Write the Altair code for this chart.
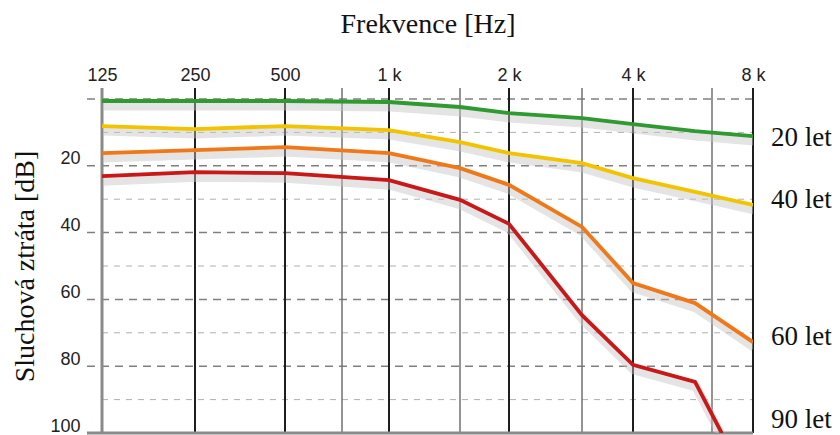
import altair as alt
import pandas as pd

# ---- data ----
freqs = [125, 250, 500, 1000, 1500, 2000, 3000, 4000, 5500, 8000]
loss_20 = [0.6, 0.6, 0.6, 0.9, 2.4, 4.2, 5.7, 7.5, 9.6, 11.1]
loss_40 = [8.1, 9.0, 8.1, 9.3, 12.9, 16.2, 19.2, 23.7, 27.8, 31.7]
loss_60 = [16.2, 15.3, 14.4, 16.2, 20.7, 25.7, 38.3, 55.1, 61.1, 72.8]
loss_90 = [23.1, 21.9, 22.2, 24.3, 30.2, 37.4, 64.7, 79.6, 84.7, 118.0]
series_names = ["20 let", "40 let", "60 let", "90 let"]
series_colors = ["#2f9a2f", "#f2c400", "#f07818", "#c81818"]
label_db = [11.7, 30.2, 71.3, 96.1]

tick_freqs = [125, 250, 500, 1000, 2000, 4000, 8000]
mid_freqs = [750, 1500, 3000, 6000]
major_db = [0, 20, 40, 60, 80]
minor_db = [10, 30, 50, 70, 90]
db_labels = [20, 40, 60, 80, 100]

# audiogram frequency axis is not evenly spaced: piecewise log scale
scale_freqs = [125, 250, 500, 750, 1000, 1500, 2000, 3000, 4000, 6000, 8000]
scale_px = [0, 93, 183, 240, 287, 358, 407, 480, 531, 610, 651]

W, H = 651, 334

rows = []
for name, vals in zip(series_names, [loss_20, loss_40, loss_60, loss_90]):
    for f, v in zip(freqs, vals):
        rows.append({"freq": f, "db": v, "series": name})
lines_df = pd.DataFrame(rows)
labels_df = pd.DataFrame({"freq": [8000] * 4, "db": label_db, "series": series_names})

xscale = alt.Scale(type="log", domain=scale_freqs, range=scale_px)
yscale = alt.Scale(type="linear", domain=[0, 100], range=[0, H])

xaxis = alt.Axis(
    orient="top", values=tick_freqs,
    labelExpr="datum.value >= 1000 ? (datum.value / 1000) + ' k' : '' + datum.value",
    title="Frekvence [Hz]", grid=False, ticks=False, tickSize=0, domain=False,
    labelFont="Liberation Sans", labelFontSize=18, labelColor="#222",
    labelPadding=19, labelBaseline="alphabetic", labelFlush=False, labelOverlap=False,
    titleFont="Liberation Serif", titleFontSize=28, titleFontWeight="normal",
    titleColor="#111", titleY=-75, titleBaseline="middle",
)
yaxis = alt.Axis(
    values=db_labels, title="Sluchová ztráta [dB]", grid=False, ticks=False,
    tickSize=0, domain=False,
    labelFont="Liberation Sans", labelFontSize=18, labelColor="#222",
    labelPadding=22, labelBaseline="bottom", labelOffset=2,
    labelOverlap=False, labelFlush=False,
    titleFont="Liberation Serif", titleFontSize=28, titleFontWeight="normal",
    titleColor="#111", titleX=-77, titleY=H / 2, titleAngle=270,
    titleBaseline="middle", titleAlign="center",
)

X = alt.X("freq:Q", scale=xscale, axis=xaxis)
Y = alt.Y("db:Q", scale=yscale, axis=yaxis)

minor_h = alt.Chart(pd.DataFrame({"db": minor_db})).mark_rule(
    color="#b0b0b0", strokeWidth=1, strokeDash=[6, 6]
).encode(y=Y, x=alt.value(0), x2=alt.value(W))

major_h = alt.Chart(pd.DataFrame({"db": major_db})).mark_rule(
    color="#808080", strokeWidth=1.5, strokeDash=[8, 6]
).encode(y=Y, x=alt.value(-15), x2=alt.value(W))

bottom_h = alt.Chart(pd.DataFrame({"db": [100]})).mark_rule(
    color="#8a8a8a", strokeWidth=3
).encode(y=Y, x=alt.value(-15), x2=alt.value(W))

mid_v = alt.Chart(pd.DataFrame({"freq": mid_freqs})).mark_rule(
    color="#707070", strokeWidth=1.5
).encode(x=X, y=alt.value(-11), y2=alt.value(H))

major_v = alt.Chart(pd.DataFrame({"freq": tick_freqs[1:]})).mark_rule(
    color="#1e1e1e", strokeWidth=2
).encode(x=X, y=alt.value(-11), y2=alt.value(H))

left_v = alt.Chart(pd.DataFrame({"freq": tick_freqs[:1]})).mark_rule(
    color="#8a8a8a", strokeWidth=3
).encode(x=X, y=alt.value(-11), y2=alt.value(H))

color = alt.Color("series:N", scale=alt.Scale(domain=series_names, range=series_colors), legend=None)

shadow = alt.Chart(lines_df).mark_line(
    color="#c4c4c4", strokeWidth=9, opacity=0.45, yOffset=5, xOffset=1, clip=True
).encode(x=X, y=Y, detail="series:N", order="freq:Q")

lines = alt.Chart(lines_df).mark_line(strokeWidth=3.8, clip=True).encode(
    x=X, y=Y, color=color, order="freq:Q"
)

labels = alt.Chart(labels_df).mark_text(
    align="left", baseline="middle", dx=18, font="Liberation Serif",
    fontSize=27, color="#111"
).encode(x=X, y=Y, text="series:N")

chart = alt.layer(
    minor_h, major_h, mid_v, major_v, left_v, bottom_h, shadow, lines, labels
).properties(
    width=W, height=H,
    autosize=alt.AutoSizeParams(type="none"),
    padding={"left": 94, "top": 91, "right": 79, "bottom": 2},
    background="white",
).configure_view(stroke=None)

chart.save("out.html", embed_options={"renderer": "svg", "actions": False})
